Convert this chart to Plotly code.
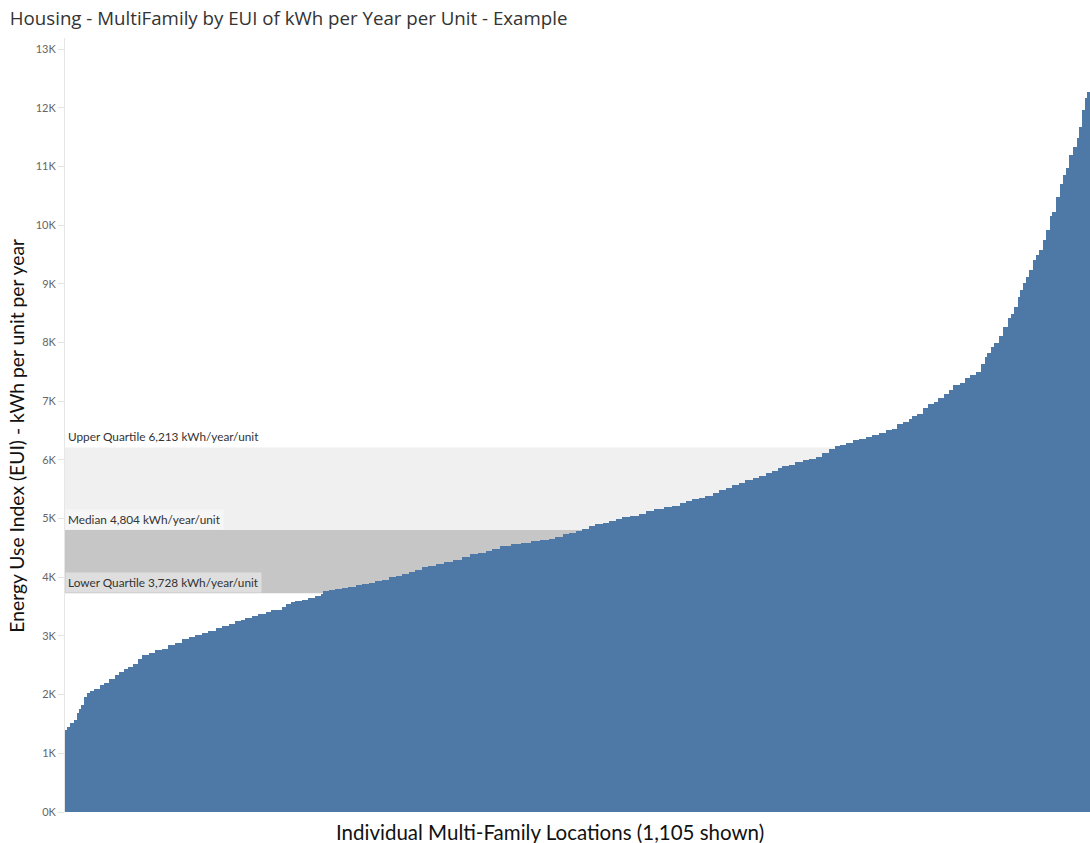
import numpy as np
import plotly.graph_objects as go

# EUI levels (kWh per unit per year), sorted ascending, and how many
# locations sit at each level (total 1,105)
EUI_LEVELS = [
    1190, 1390, 1450, 1510, 1560, 1680, 1760, 1820, 1960, 2020,
    2070, 2100, 2160, 2200, 2270, 2330, 2390, 2430, 2470, 2530,
    2600, 2670, 2710, 2760, 2780, 2840, 2880, 2940, 2980, 3010,
    3050, 3090, 3130, 3170, 3210, 3260, 3280, 3310, 3340, 3370,
    3400, 3440, 3450, 3490, 3550, 3580, 3600, 3620, 3640, 3680,
    3720, 3760, 3780, 3800, 3820, 3830, 3860, 3880, 3900, 3930,
    3960, 4000, 4020, 4060, 4090, 4130, 4170, 4200, 4230, 4260,
    4290, 4350, 4390, 4410, 4450, 4480, 4530, 4560, 4580, 4610,
    4630, 4660, 4690, 4730, 4760, 4790, 4820, 4870, 4900, 4930,
    4960, 4990, 5020, 5050, 5070, 5130, 5160, 5190, 5220, 5260,
    5300, 5330, 5350, 5390, 5440, 5480, 5530, 5570, 5610, 5650,
    5700, 5730, 5770, 5810, 5860, 5890, 5920, 5960, 6000, 6010,
    6050, 6110, 6190, 6240, 6250, 6290, 6340, 6360, 6390, 6420,
    6460, 6510, 6530, 6620, 6650, 6690, 6740, 6790, 6880, 6960,
    6990, 7060, 7120, 7190, 7270, 7310, 7390, 7440, 7500, 7640,
    7750, 7820, 7930, 8000, 8120, 8270, 8410, 8490, 8610, 8780,
    8890, 9010, 9120, 9230, 9400, 9490, 9570, 9740, 9910, 10150,
    10230, 10480, 10710, 10850, 10980, 11190, 11330, 11480, 11680, 11960,
    12160, 12270,
]
LOCATION_COUNTS = [
    1, 2, 3, 4, 3, 3, 2, 3, 3, 4,
    4, 6, 5, 5, 6, 5, 5, 4, 6, 5,
    5, 7, 7, 7, 7, 7, 8, 7, 7, 7,
    7, 8, 7, 7, 7, 6, 5, 7, 7, 8,
    6, 5, 6, 5, 5, 5, 7, 7, 7, 6,
    3, 6, 7, 7, 7, 8, 7, 7, 7, 7,
    8, 7, 7, 7, 7, 7, 7, 8, 9, 10,
    9, 9, 9, 8, 7, 9, 11, 11, 11, 10,
    9, 7, 8, 7, 7, 7, 7, 7, 8, 7,
    7, 7, 9, 9, 8, 9, 10, 9, 8, 7,
    7, 7, 7, 8, 7, 7, 7, 7, 7, 8,
    7, 7, 7, 6, 5, 7, 7, 8, 7, 7,
    7, 7, 7, 5, 6, 8, 7, 7, 7, 7,
    8, 6, 5, 7, 6, 4, 5, 6, 6, 6,
    5, 6, 5, 5, 7, 6, 5, 7, 5, 4,
    3, 4, 3, 5, 5, 5, 3, 4, 4, 2,
    3, 4, 3, 4, 3, 4, 4, 3, 4, 3,
    4, 4, 3, 4, 3, 4, 4, 3, 3, 3,
    2, 3,
]

LOWER_QUARTILE = 3728
MEDIAN = 4804
UPPER_QUARTILE = 6213

TICK_VALUES = [0, 1000, 2000, 3000, 4000, 5000, 6000, 7000, 8000, 9000,
               10000, 11000, 12000, 13000]
TICK_LABELS = ["0K", "1K", "2K", "3K", "4K", "5K", "6K", "7K", "8K", "9K",
               "10K", "11K", "12K", "13K"]

eui = np.repeat(EUI_LEVELS, LOCATION_COUNTS)
locations = np.arange(len(eui))

BLUE = "#4e79a7"
FONT = "Lato"

fig = go.Figure()
fig.add_trace(go.Bar(
    x=locations,
    y=eui,
    marker=dict(color=BLUE, line=dict(width=0)),
    hovertemplate="%{y:,.0f} kWh/year/unit<extra></extra>",
))

# quartile reference bands
fig.add_shape(type="rect", xref="paper", yref="y", x0=0, x1=1,
              y0=MEDIAN, y1=UPPER_QUARTILE, fillcolor="#f0f0f0",
              line=dict(width=0), layer="below")
fig.add_shape(type="rect", xref="paper", yref="y", x0=0, x1=1,
              y0=LOWER_QUARTILE, y1=MEDIAN, fillcolor="#c6c6c6",
              line=dict(width=0), layer="below")

band_labels = [
    (UPPER_QUARTILE, "Upper Quartile", "rgba(0,0,0,0)"),
    (MEDIAN, "Median", "#f6f6f6"),
    (LOWER_QUARTILE, "Lower Quartile", "#dedede"),
]
for value, name, bg in band_labels:
    fig.add_annotation(
        xref="paper", yref="y", x=0, y=value,
        xanchor="left", yanchor="bottom",
        text=f"{name} {value:,} kWh/year/unit",
        showarrow=False, bgcolor=bg, borderpad=2,
        font=dict(family=FONT, size=11.8, color="#333333"),
    )

# axis titles
fig.add_annotation(
    xref="paper", yref="paper", x=-0.047, y=0.486,
    xanchor="center", yanchor="middle", textangle=-90,
    text="Energy Use Index (EUI) - kWh per unit per year",
    showarrow=False, font=dict(family=FONT, size=19.3, color="#111111"),
)
fig.add_annotation(
    xref="paper", yref="paper", x=0.473, y=-0.026,
    xanchor="center", yanchor="middle",
    text="Individual Multi-Family Locations (1,105 shown)",
    showarrow=False, font=dict(family=FONT, size=20.5, color="#111111"),
)

fig.update_layout(
    width=1090, height=843,
    margin=dict(l=65, r=0, t=38, b=31),
    paper_bgcolor="white", plot_bgcolor="white",
    bargap=0, showlegend=False,
    title=dict(
        text="Housing - MultiFamily by EUI of kWh per Year per Unit - Example",
        x=0.009, xanchor="left", y=0.978, yanchor="middle",
        font=dict(family="Open Sans", size=18.7, color="#333333"),
    ),
    xaxis=dict(
        range=[-0.5, len(eui) - 0.5],
        showticklabels=False, ticks="", showgrid=False, zeroline=False,
        showline=False,
    ),
    yaxis=dict(
        range=[0, 13190],
        tickvals=TICK_VALUES, ticktext=TICK_LABELS,
        ticks="outside", ticklen=6, tickcolor="#e2e2e2",
        tickfont=dict(family=FONT, size=11, color="#666666"),
        showgrid=False, zeroline=False,
        showline=True, linecolor="#e6e6e6", linewidth=1,
    ),
)

fig.write_html("out.html")
